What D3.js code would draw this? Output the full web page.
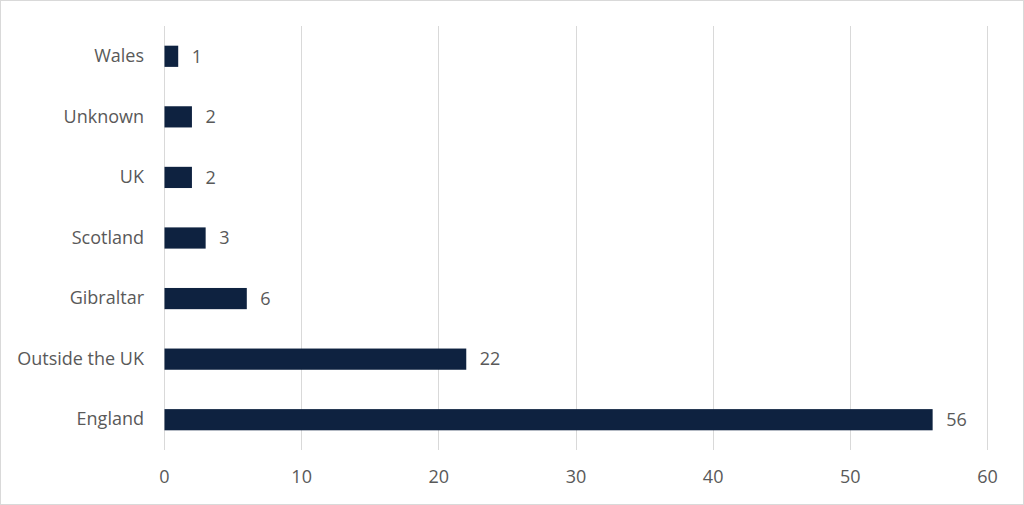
<!DOCTYPE html>
<html>
<head>
<meta charset="utf-8">
<script src="https://cdn.jsdelivr.net/npm/d3@7"></script>
<style>
  body { margin: 0; background: #fff; }
  text { font-family: "Open Sans", "Liberation Sans", sans-serif; fill: #595959; }
</style>
</head>
<body>
<div id="chart-area"></div>
<script>
// data
const categories = ["Wales", "Unknown", "UK", "Scotland", "Gibraltar", "Outside the UK", "England"];
const values = [1, 2, 2, 3, 6, 22, 56];
const xTicks = [0, 10, 20, 30, 40, 50, 60];

const fontSize = 18;

// graph area
const canvas = { width: 1024, height: 505 };
const margin = { left: 164, right: 37, top: 26, bottom: 55 };
const graph = { width: canvas.width - margin.left - margin.right, height: canvas.height - margin.top - margin.bottom };

const svg = d3.select("#chart-area").append("svg").attr("width", canvas.width).attr("height", canvas.height);

// outer border
svg.append("rect").attr("x", 0.5).attr("y", 0.5).attr("width", canvas.width - 1).attr("height", canvas.height - 1)
    .attr("fill", "#fff").attr("stroke", "#d9d9d9");

const g = svg.append("g").attr("transform", "translate(" + margin.left + "," + margin.top + ")");

// scales
const x = d3.scaleLinear().domain([0, 60]).range([0, graph.width]);
const y = d3.scaleBand().domain(categories).range([0, graph.height]).paddingInner(0.65).paddingOuter(0.325);

// gridlines
g.selectAll(".grid").data(xTicks).enter().append("line").attr("class", "grid")
    .attr("x1", d => Math.round(x(d)) + 0.5).attr("x2", d => Math.round(x(d)) + 0.5)
    .attr("y1", 0).attr("y2", graph.height)
    .attr("stroke", "#d9d9d9").attr("stroke-width", 1);

// x axis
const xAxisCall = d3.axisBottom(x).tickValues(xTicks).tickSize(0).tickPadding(20);
const xAxis = g.append("g").attr("transform", "translate(0," + graph.height + ")").call(xAxisCall);
xAxis.select(".domain").remove();
xAxis.selectAll("text").style("font-size", fontSize + "px").attr("fill", "#595959").style("font-family", "\"Open Sans\", sans-serif");

// y axis
const yAxisCall = d3.axisLeft(y).tickSize(0).tickPadding(20);
const yAxis = g.append("g").call(yAxisCall);
yAxis.select(".domain").remove();
yAxis.selectAll("text").style("font-size", fontSize + "px").attr("fill", "#595959").style("font-family", "\"Open Sans\", sans-serif");

// bars
g.selectAll(".bar").data(values).enter().append("rect").attr("class", "bar")
    .attr("x", x(0) + 0.5)
    .attr("y", (d, i) => y(categories[i]))
    .attr("width", d => x(d) - x(0))
    .attr("height", y.bandwidth())
    .attr("fill", "#0e2240");

// value labels
g.selectAll(".val").data(values).enter().append("text").attr("class", "val")
    .attr("x", d => x(d) + 14)
    .attr("y", (d, i) => y(categories[i]) + y.bandwidth() / 2)
    .attr("dy", "0.35em")
    .attr("font-size", fontSize)
    .text(d => d);
</script>
</body>
</html>
